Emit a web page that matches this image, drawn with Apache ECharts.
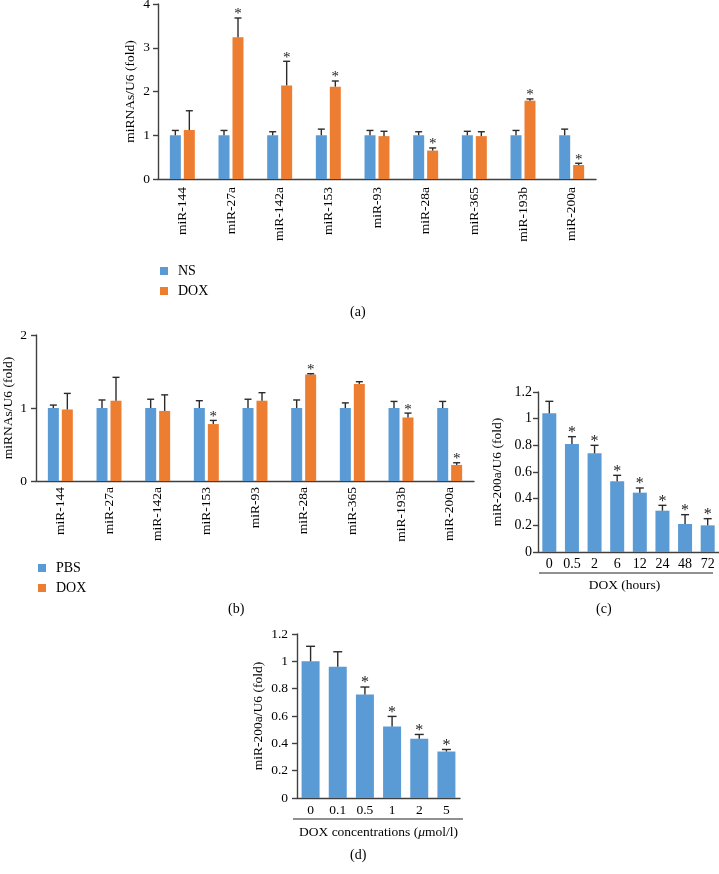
<!DOCTYPE html>
<html>
<head>
<meta charset="utf-8">
<script src="https://cdn.jsdelivr.net/npm/echarts@6/dist/echarts.min.js"></script>
<style>
html,body{margin:0;padding:0;background:#fff;}
#chart{width:719px;height:874px;}
</style>
</head>
<body>
<div id="chart"></div>
<script>
// ---------- data ----------
const mirnaCats = ['miR-144','miR-27a','miR-142a','miR-153','miR-93','miR-28a','miR-365','miR-193b','miR-200a'];

// panel (a): NS vs DOX
const nsMeanA  = [1, 1, 1, 1, 1, 1, 1, 1, 1];
const nsErrA   = [0.11, 0.11, 0.08, 0.14, 0.11, 0.08, 0.09, 0.11, 0.14];
const doxMeanA = [1.12, 3.24, 2.14, 2.11, 0.98, 0.65, 0.98, 1.79, 0.32];
const doxErrA  = [0.44, 0.44, 0.55, 0.13, 0.11, 0.06, 0.10, 0.04, 0.04];
const doxSigA  = [0, 1, 1, 1, 0, 1, 0, 1, 1];

// panel (b): PBS vs DOX
const pbsMeanB = [1, 1, 1, 1, 1, 1, 1, 1, 1];
const pbsErrB  = [0.04, 0.11, 0.12, 0.10, 0.12, 0.11, 0.07, 0.09, 0.09];
const doxMeanB = [0.98, 1.10, 0.96, 0.78, 1.10, 1.46, 1.33, 0.87, 0.22];
const doxErrB  = [0.22, 0.32, 0.22, 0.05, 0.11, 0.01, 0.03, 0.06, 0.03];
const doxSigB  = [0, 0, 0, 1, 0, 1, 0, 1, 1];

// panel (c): time course
const hoursCats = ['0','0.5','2','6','12','24','48','72'];
const meanC = [1.04, 0.81, 0.74, 0.53, 0.445, 0.31, 0.21, 0.20];
const errC  = [0.09, 0.055, 0.06, 0.045, 0.035, 0.04, 0.07, 0.05];
const sigC  = [0, 1, 1, 1, 1, 1, 1, 1];

// panel (d): concentration
const concCats = ['0','0.1','0.5','1','2','5'];
const meanD = [1.0, 0.96, 0.757, 0.523, 0.433, 0.34];
const errD  = [0.11, 0.11, 0.055, 0.074, 0.032, 0.015];
const sigD  = [0, 0, 1, 1, 1, 1];

// ---------- styling ----------
const FONT = '"Liberation Serif", "Times New Roman", serif';
const BLUE = '#5B9BD5', ORANGE = '#ED7D31', AXIS = '#404040', ERR = '#2b2b2b';

function errorSeries(idx, means, errs, sigs, offset, capW, starSize) {
  const data = means.map((m, i) => [i, m, m + errs[i], sigs ? sigs[i] : 0]);
  return {
    type: 'custom', xAxisIndex: idx, yAxisIndex: idx, z: 5, silent: true,
    data: data,
    renderItem: function (params, api) {
      const base = api.coord([api.value(0), api.value(1)]);
      const top = api.coord([api.value(0), api.value(2)]);
      const x = base[0] + offset;
      const children = [
        {type: 'line', shape: {x1: x, y1: base[1], x2: x, y2: top[1]}, style: {stroke: ERR, lineWidth: 1.4}},
        {type: 'line', shape: {x1: x - capW / 2, y1: top[1], x2: x + capW / 2, y2: top[1]}, style: {stroke: ERR, lineWidth: 1.4}}
      ];
      if (api.value(3)) {
        children.push({type: 'text', style: {x: x, y: top[1] + 4, text: '*', fontSize: starSize, fontFamily: FONT, fill: '#222', align: 'center', verticalAlign: 'bottom'}});
      }
      return {type: 'group', children: children};
    }
  };
}

function catAxis(idx, cats, opts) {
  return Object.assign({
    type: 'category', gridIndex: idx, data: cats,
    axisLine: {lineStyle: {color: AXIS, width: 1.4}},
    axisTick: {show: false},
    axisLabel: {color: '#000', fontFamily: FONT, fontSize: 13, margin: 7},
    nameMoveOverlap: false,
    splitLine: {show: false}
  }, opts || {});
}
function valAxis(idx, max, interval, name, gap, fs, margin) {
  return {
    type: 'value', gridIndex: idx, min: 0, max: max, interval: interval,
    name: name, nameLocation: 'middle', nameGap: gap, nameMoveOverlap: false,
    nameTextStyle: {color: '#000', fontFamily: FONT, fontSize: 13.5},
    axisLine: {show: true, lineStyle: {color: AXIS, width: 1.4}},
    axisTick: {show: true, length: 5, lineStyle: {color: AXIS, width: 1.4}},
    axisLabel: {color: '#000', fontFamily: FONT, fontSize: fs, margin: margin},
    splitLine: {show: false}
  };
}

const option = {
  backgroundColor: '#fff',
  animation: false,
  grid: [
    {left: 158, top: 4, width: 438, height: 175, outerBoundsMode: 'none', containLabel: false},
    {left: 36, top: 335, width: 438, height: 146, outerBoundsMode: 'none', containLabel: false},
    {left: 538, top: 392, width: 181, height: 160, outerBoundsMode: 'none', containLabel: false},
    {left: 297, top: 634, width: 163, height: 164, outerBoundsMode: 'none', containLabel: false}
  ],
  xAxis: [
    catAxis(0, mirnaCats, {axisLabel: {color: '#000', fontFamily: FONT, fontSize: 13.5, margin: 8, rotate: 90, interval: 0}}),
    catAxis(1, mirnaCats, {axisLabel: {color: '#000', fontFamily: FONT, fontSize: 13.5, margin: 6, rotate: 90, interval: 0}}),
    catAxis(2, hoursCats, {
      axisLabel: {color: '#000', fontFamily: FONT, fontSize: 14, margin: 5, interval: 0},
      name: 'DOX (hours)', nameLocation: 'middle', nameGap: 26,
      nameTextStyle: {color: '#000', fontFamily: FONT, fontSize: 13.5, padding: [0, 8, 0, 0]}
    }),
    catAxis(3, concCats, {
      axisLabel: {color: '#000', fontFamily: FONT, fontSize: 13.5, margin: 5, interval: 0},
      name: 'DOX concentrations ({it|\u03bc}mol/l)', nameLocation: 'middle', nameGap: 27,
      nameTextStyle: {color: '#000', fontFamily: FONT, fontSize: 13.5,
        rich: {it: {fontStyle: 'italic', fontFamily: FONT, fontSize: 13.5, color: '#000'}}}
    })
  ],
  yAxis: [
    valAxis(0, 4, 1, 'miRNAs/U6 (fold)', 21, 13.5, 8),
    valAxis(1, 2, 1, 'miRNAs/U6 (fold)', 21, 13.5, 9),
    valAxis(2, 1.2, 0.2, 'miR-200a/U6 (fold)', 34, 14, 6),
    valAxis(3, 1.2, 0.2, 'miR-200a/U6 (fold)', 32, 13.5, 9)
  ],
  legend: [
    {left: 155, top: 259, orient: 'vertical', icon: 'rect', itemWidth: 8, itemHeight: 8, itemGap: 6,
     data: ['NS', 'DOX'], textStyle: {color: '#000', fontFamily: FONT, fontSize: 14, padding: [0, 0, 0, 5]}, selectedMode: false},
    {left: 33, top: 556, orient: 'vertical', icon: 'rect', itemWidth: 8, itemHeight: 8, itemGap: 6,
     data: ['PBS', 'DOX'], textStyle: {color: '#000', fontFamily: FONT, fontSize: 14, padding: [0, 0, 0, 5]}, selectedMode: false}
  ],
  series: [
    {name: 'NS', type: 'bar', xAxisIndex: 0, yAxisIndex: 0, data: nsMeanA, barWidth: 11, barGap: '27%', itemStyle: {color: BLUE}},
    {name: 'DOX', type: 'bar', xAxisIndex: 0, yAxisIndex: 0, data: doxMeanA, barWidth: 11, barGap: '27%', itemStyle: {color: ORANGE}},
    errorSeries(0, nsMeanA, nsErrA, null, -7, 7, 15),
    errorSeries(0, doxMeanA, doxErrA, doxSigA, 7, 7, 15),

    {name: 'PBS', type: 'bar', xAxisIndex: 1, yAxisIndex: 1, data: pbsMeanB, barWidth: 11, barGap: '27%', itemStyle: {color: BLUE}},
    {name: 'DOX', type: 'bar', xAxisIndex: 1, yAxisIndex: 1, data: doxMeanB, barWidth: 11, barGap: '27%', itemStyle: {color: ORANGE}},
    errorSeries(1, pbsMeanB, pbsErrB, null, -7, 7, 15),
    errorSeries(1, doxMeanB, doxErrB, doxSigB, 7, 7, 15),

    {name: 'time', type: 'bar', xAxisIndex: 2, yAxisIndex: 2, data: meanC, barWidth: 14, itemStyle: {color: BLUE}},
    errorSeries(2, meanC, errC, sigC, 0, 8, 16),

    {name: 'conc', type: 'bar', xAxisIndex: 3, yAxisIndex: 3, data: meanD, barWidth: 18, itemStyle: {color: BLUE}},
    errorSeries(3, meanD, errD, sigD, 0, 9, 16)
  ],
  graphic: [
    {type: 'text', left: 350, top: 305, style: {text: '(a)', fontFamily: FONT, fontSize: 14, fill: '#000'}},
    {type: 'text', left: 228, top: 602, style: {text: '(b)', fontFamily: FONT, fontSize: 14, fill: '#000'}},
    {type: 'text', left: 596, top: 602, style: {text: '(c)', fontFamily: FONT, fontSize: 14, fill: '#000'}},
    {type: 'text', left: 350, top: 848, style: {text: '(d)', fontFamily: FONT, fontSize: 14, fill: '#000'}},
    {type: 'line', shape: {x1: 539, y1: 573, x2: 713, y2: 573}, style: {stroke: '#222', lineWidth: 1.2}},
    {type: 'line', shape: {x1: 293, y1: 819, x2: 463, y2: 819}, style: {stroke: '#222', lineWidth: 1.2}}
  ]
};

const chart = echarts.init(document.getElementById('chart'), null, {renderer: 'canvas'});
chart.setOption(option);
</script>
</body>
</html>
